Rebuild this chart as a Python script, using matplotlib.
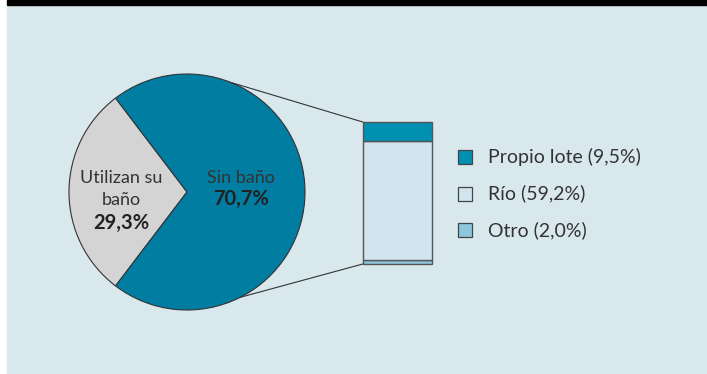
import numpy as np
import matplotlib
matplotlib.use("Agg")
import matplotlib.pyplot as plt
from matplotlib.patches import Rectangle

plt.rcParams['font.family'] = ['Lato', 'DejaVu Sans']

# data
pie_labels = [["Utilizan su", "baño"], ["Sin baño"]]
pie_values = [29.3, 70.7]
bar_labels = ["Otro", "Río", "Propio lote"]   # bottom -> top
bar_values = [2.0, 59.2, 9.5]
legend_order = ["Propio lote", "Río", "Otro"]

pie_colors = ["#d4d4d4", "#007da1"]
bar_colors = {"Propio lote": "#0090b2", "Río": "#d2e5ef", "Otro": "#8cc6dc"}
W, H = 707, 374

fig = plt.figure(figsize=(W / 100, H / 100), dpi=100)
ax = fig.add_axes([0, 0, 1, 1])

# background panel + top black rule
ax.add_patch(Rectangle((7, 0), W - 7, H - 5, color="#d9e8ed", zorder=0))
ax.add_patch(Rectangle((7, H - 5), W - 7, 5, color="black", zorder=0))

# pie
cx, cy, r = 187, 182, 118
start = 180 - pie_values[0] / 100 * 360 / 2
ax.pie(pie_values, colors=pie_colors, startangle=start, counterclock=True,
       center=(cx, cy), radius=r, frame=True,
       wedgeprops=dict(edgecolor="#333333", linewidth=0.8))
ax.set_xlim(0, W)
ax.set_ylim(0, H)
ax.axis("off")

txt = "#333333"
def pct(v):
    return f"{v:.1f}%".replace(".", ",")

for lines, v, x in zip(pie_labels, pie_values, [121, 241]):
    y = H - 178
    for ln in lines:
        ax.text(x, y, ln, ha="center", va="center", fontsize=13, color=txt)
        y -= 22
    ax.text(x, y - 1 if len(lines) > 1 else y + 1, pct(v), ha="center",
            va="center", fontsize=14.5, fontweight="bold", color="#222222")

# stacked bar (breakdown of "Sin baño")
bx, bw, bbot, btot = 397.5, 69.5, 110, 142
scale = btot / sum(bar_values)
bottom = bbot
for lab, v in zip(bar_labels, bar_values):
    ax.bar(bx, v * scale, width=bw, bottom=bottom, color=bar_colors[lab],
           edgecolor="#555555", linewidth=1.0, zorder=3)
    bottom += v * scale

# connector lines
a1, a2 = np.deg2rad(68.3), np.deg2rad(-63.2)
left = bx - bw / 2
ax.plot([cx + r * np.cos(a1), left], [cy + r * np.sin(a1), bbot + btot],
        color="#333333", lw=0.8, zorder=2)
ax.plot([cx + r * np.cos(a2), left], [cy + r * np.sin(a2), bbot],
        color="#333333", lw=0.8, zorder=2)

# legend
vals = dict(zip(bar_labels, bar_values))
for i, lab in enumerate(legend_order):
    y = H - 157 - i * 36.5
    ax.add_patch(Rectangle((458, y - 7), 14, 14, facecolor=bar_colors[lab],
                           edgecolor="#444444", linewidth=0.9, zorder=3))
    ax.text(488, y, f"{lab} ({pct(vals[lab])})",
            va="center", ha="left", fontsize=14, color=txt)

fig.savefig("out.png", dpi=100)
